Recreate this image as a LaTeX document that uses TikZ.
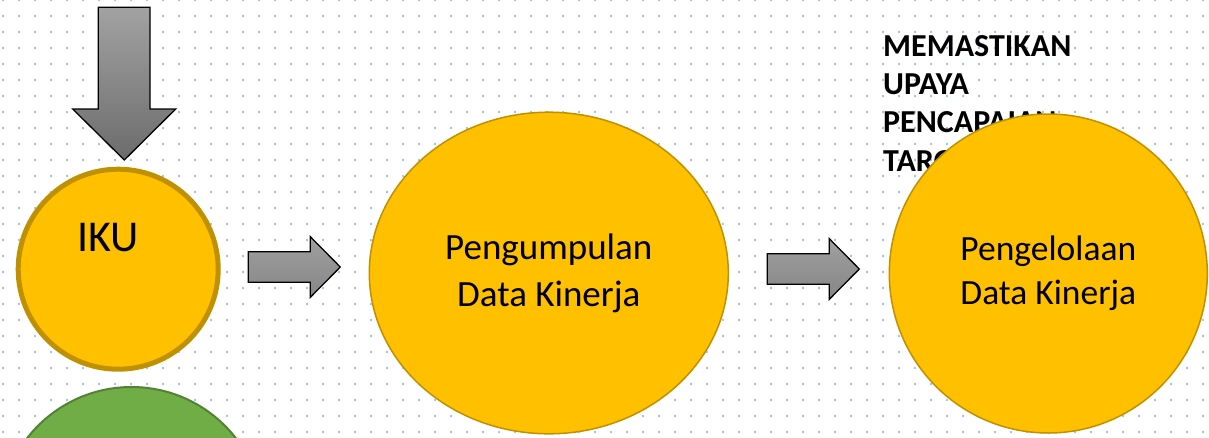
\documentclass[tikz,border=0pt]{standalone}
\usepackage{fontspec}
\setmainfont{Carlito}
\usetikzlibrary{shapes.geometric}

\definecolor{kuning}{RGB}{255,192,0}
\definecolor{emas}{RGB}{191,144,0}
\definecolor{hijau}{RGB}{112,173,71}
\definecolor{hijautua}{RGB}{84,130,53}
\definecolor{titik}{RGB}{160,198,238}
\definecolor{abuatas}{RGB}{162,162,162}
\definecolor{abubawah}{RGB}{108,108,108}

\begin{document}
\begin{tikzpicture}[x=1pt,y=-1pt,
    bulat/.style={ellipse, fill=kuning, draw=emas, line width=1.5pt, inner sep=0pt, align=center},
    panah/.style={draw=black, line width=1.3pt, line join=miter, top color=abuatas, bottom color=abubawah}]

% Kanvas dan grid titik
        \clip (0,0) rectangle (1209,437);
        \fill[white] (0,0) rectangle (1209,437);
        \foreach \i in {0,...,75}
            \foreach \j in {0,...,27}
                \fill[titik] ({1.5+16*\i},{-1.5+16*\j}) rectangle ++(2.5,2.5);

% Teks di belakang lingkaran kanan
        \node[anchor=north west, align=left, inner sep=0pt,
              font=\bfseries\fontsize{32}{38.3}\selectfont] (target) at (883,35)
              {MEMASTIKAN\\UPAYA\\PENCAPAIAN\\TARGET};

% Panah ke bawah
        \draw[panah] (98.3,7.3) -- (150,7.3) -- (150,109) -- (175.7,109)
              -- (124.3,160) -- (72.7,109) -- (98.3,109) -- cycle;

% Variables: x awal, y tengah
        \def\panahKanan#1#2{
            \draw[panah, top color=gray!75, bottom color=gray!95] (#1,#2-15.3) -- ++(62,0) -- ++(0,-15)
                  -- ++(30,30.3) -- ++(-30,30.3) -- ++(0,-15) -- ++(-62,0) -- cycle;
        }

        \panahKanan{248.3}{267};
        \panahKanan{767.3}{269};

% Lingkaran
        \node[bulat, draw=emas, line width=5pt, minimum size=200pt] (iku) at (118.2,269.2) {};
        \node[font=\fontsize{44}{50}\selectfont, inner sep=0pt] (ikuteks) at (108,238) {IKU};

        \node[circle, fill=hijau, draw=hijautua, line width=2pt, minimum size=264pt, inner sep=0pt] (hijau) at (131.5,519) {};

        \node[bulat, minimum width=359pt, minimum height=321.6pt,
              font=\fontsize{37}{47}\selectfont] (kumpul) at (548.8,273)
              {Pengumpulan\\Data Kinerja};

        \node[bulat, minimum width=318pt, minimum height=319pt,
              font=\fontsize{35.5}{44}\selectfont] (kelola) at (1048.3,273.5)
              {Pengelolaan\\Data Kinerja};

\end{tikzpicture}
\end{document}
